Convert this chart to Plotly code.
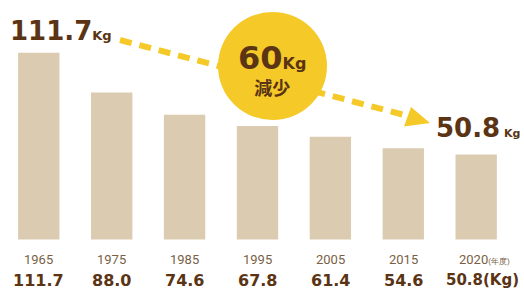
import plotly.graph_objects as go

years = ["1965", "1975", "1985", "1995", "2005", "2015", "2020"]
values = [111.7, 88.0, 74.6, 67.8, 61.4, 54.6, 50.8]
value_labels = ["111.7", "88.0", "74.6", "67.8", "61.4", "54.6", "50.8(Kg)"]
start_label = "111.7"
end_label = "50.8"
reduction_label = "60"

W, H = 524, 289
BAR = "#dbccb1"
YEL = "#f5c928"
DARK = "#5a3414"
MID = "#7a5f45"
BIG = "DejaVu Sans, sans-serif"
JP = "Noto Sans CJK JP"

def px(x):
    return x / W

def py(y):
    return 1 - y / H

xs = list(range(len(years)))
fig = go.Figure()
fig.add_trace(go.Bar(x=xs, y=values, width=0.567, marker=dict(color=BAR, line=dict(width=0)),
                     hoverinfo="skip"))

ann = []
for i, (yr, vl) in enumerate(zip(years, value_labels)):
    last = i == len(years) - 1
    ytxt = yr if not last else yr + "<span style='font-size:8px'>(年度)</span>"
    ann.append(dict(x=i, y=-12.2, xref="x", yref="y", text=ytxt, showarrow=False,
                    xanchor="center", yanchor="middle",
                    xshift=(8 if last else 0),
                    font=dict(family="Roboto, sans-serif", size=13, color=MID)))
    ann.append(dict(x=i, y=-24.4, xref="x", yref="y", text="<b>" + vl + "</b>", showarrow=False,
                    xanchor="center", yanchor="middle",
                    xshift=(6 if last else 0),
                    font=dict(family=BIG, size=(15 if last else 16), color=DARK)))

ann.append(dict(x=px(8), y=py(31), xref="paper", yref="paper",
                text="<b>" + start_label + "<span style='font-size:13px'>Kg</span></b>",
                showarrow=False, xanchor="left", yanchor="middle",
                font=dict(family=BIG, size=26, color=DARK)))
ann.append(dict(x=px(434), y=py(128), xref="paper", yref="paper",
                text="<b>" + end_label + "<span style='font-size:11px'> Kg</span></b>",
                showarrow=False, xanchor="left", yanchor="middle",
                font=dict(family=BIG, size=26, color=DARK)))
ann.append(dict(x=px(272), y=py(70), xref="paper", yref="paper",
                text="<b><span style='font-size:32px'>" + reduction_label + "</span>"
                     "<span style='font-size:16px'>Kg</span></b><br>"
                     "<span style='font-size:18px;font-family:" + JP + "'><b>減少</b></span>",
                showarrow=False, xanchor="center", yanchor="middle", align="center",
                font=dict(family=BIG, size=20, color=DARK)))

shapes = [
    dict(type="line", xref="paper", yref="paper", x0=px(120), y0=py(40), x1=px(408), y1=py(116),
         line=dict(color=YEL, width=6, dash="12px,8px"), layer="above"),
    dict(type="circle", xref="paper", yref="paper", x0=px(218), y0=py(12), x1=px(327), y1=py(120),
         fillcolor=YEL, line=dict(width=0), layer="above"),
    dict(type="path", xref="paper", yref="paper",
         path=f"M {px(430)} {py(123)} L {px(404)} {py(126.5)} L {px(411)} {py(107)} Z",
         fillcolor=YEL, line=dict(width=0), layer="above"),
]

fig.update_layout(
    width=W, height=H, margin=dict(l=0, r=0, t=0, b=0),
    paper_bgcolor="white", plot_bgcolor="white", showlegend=False,
    xaxis=dict(range=[-0.532, 6.656], visible=False, fixedrange=True),
    yaxis=dict(range=[-29.7, 143.3], visible=False, fixedrange=True),
    annotations=ann, shapes=shapes,
)
fig.write_html("out.html", config=dict(displayModeBar=False),
               post_script="document.body.style.margin='0';document.body.style.overflow='hidden';")
